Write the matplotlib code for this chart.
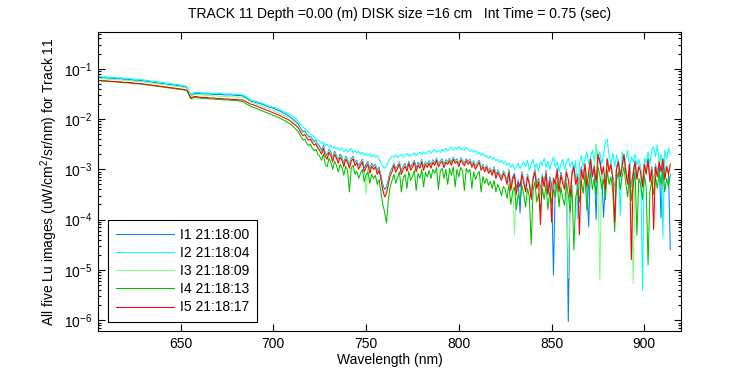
import numpy as np
import matplotlib
matplotlib.use('Agg')
import matplotlib.pyplot as plt
from matplotlib.ticker import LogLocator, FuncFormatter, NullFormatter

plt.rcParams['font.family'] = ['Liberation Sans', 'DejaVu Sans']
plt.rcParams['mathtext.fontset'] = 'custom'
plt.rcParams['mathtext.rm'] = 'Liberation Sans'
plt.rcParams['mathtext.it'] = 'Liberation Sans'
plt.rcParams['mathtext.bf'] = 'Liberation Sans'

# wavelength grid (nm): 2 nm sampling in the smooth part, 1 nm in the noisy part
wavelength = np.concatenate([np.arange(605.5, 714.0, 2.0), np.arange(715.0, 915.0, 1.0)])

labels = ["I1 21:18:00", "I2 21:18:04", "I3 21:18:09", "I4 21:18:13", "I5 21:18:17"]
colors = ["#0080ff", "#00ffff", "#80ff80", "#00c000", "#ff0000"]

# log10 of Lu (uW/cm^2/sr/nm)
I1_log10 = [
    # 605.5 - 713.5 (2 nm)
    -1.17, -1.18, -1.18, -1.19, -1.19, -1.20, -1.20, -1.21, -1.21, -1.22,
    -1.23, -1.23, -1.24, -1.25, -1.26, -1.27, -1.28, -1.29, -1.30, -1.31,
    -1.32, -1.33, -1.34, -1.35, -1.38, -1.53, -1.49, -1.49, -1.50, -1.50,
    -1.50, -1.51, -1.51, -1.51, -1.52, -1.52, -1.52, -1.53, -1.53, -1.54,
    -1.58, -1.64, -1.66, -1.68, -1.70, -1.73, -1.76, -1.78, -1.81, -1.84,
    -1.88, -1.92, -1.97, -2.03, -2.10,
    # 715 - 914 (1 nm)
    -2.20, -2.25, -2.24, -2.30, -2.35, -2.34, -2.40, -2.45, -2.43, -2.50,
    -2.55, -2.62, -2.52, -2.68, -2.72, -2.60, -2.66, -2.78, -2.64, -2.72,
    -2.82, -2.70, -2.76, -2.88, -2.74, -2.80, -2.92, -2.78, -2.74, -2.86,
    -2.82, -2.94, -2.86, -2.80, -2.98, -2.90, -2.85, -3.00, -2.88, -2.94,
    -2.90, -3.02, -2.96, -3.12, -3.30, -3.40, -3.35, -3.20, -3.05, -2.98,
    -2.88, -3.00, -2.92, -2.85, -3.04, -2.94, -2.88, -2.98, -2.84, -2.96,
    -2.90, -2.82, -2.98, -2.86, -2.92, -2.80, -2.96, -2.85, -2.90, -2.83,
    -2.92, -2.81, -2.87, -2.78, -2.90, -2.83, -2.79, -2.91, -2.81, -2.85,
    -2.78, -2.87, -2.76, -2.83, -2.79, -2.90, -2.77, -2.82, -2.88, -2.79,
    -2.85, -2.80, -2.91, -2.83, -2.95, -2.87, -2.82, -2.97, -2.90, -3.00,
    -2.92, -3.03, -2.97, -3.07, -2.95, -3.12, -3.01, -3.09, -3.16, -3.03,
    -3.10, -3.25, -3.00, -3.35, -3.15, -3.08, -3.40, -3.20, -3.87, -3.05,
    -3.22, -3.38, -3.10, -3.25, -3.50, -3.15, -3.00, -3.30, -3.18, -3.42,
    -3.10, -3.28, -3.02, -3.45, -3.15, -3.30, -5.10, -3.22, -2.98, -3.38,
    -3.06, -3.22, -3.35, -3.00, -6.03, -3.48, -3.05, -2.92, -3.25, -3.10,
    -3.30, -2.95, -3.15, -2.88, -3.30, -4.14, -2.78, -3.10, -2.92, -4.00,
    -2.72, -2.82, -3.05, -3.95, -3.30, -2.78, -3.00, -2.88, -3.15, -3.40,
    -2.95, -2.82, -3.10, -2.92, -2.75, -3.00, -3.25, -2.88, -3.35, -3.05,
    -2.82, -3.15, -2.92, -3.00, -3.30, -2.88, -3.05, -2.78, -3.20, -2.95,
    -3.25, -2.90, -3.10, -2.82, -3.97, -2.78, -3.15, -2.92, -3.05, -4.60,
]
I2_log10 = [
    -1.15, -1.16, -1.16, -1.17, -1.17, -1.18, -1.18, -1.19, -1.19, -1.20,
    -1.21, -1.21, -1.22, -1.23, -1.24, -1.25, -1.26, -1.27, -1.28, -1.29,
    -1.30, -1.31, -1.32, -1.33, -1.36, -1.51, -1.47, -1.47, -1.48, -1.48,
    -1.48, -1.49, -1.49, -1.49, -1.50, -1.50, -1.50, -1.51, -1.51, -1.52,
    -1.55, -1.62, -1.64, -1.66, -1.68, -1.71, -1.74, -1.76, -1.78, -1.81,
    -1.85, -1.88, -1.92, -1.97, -2.05,
    -2.12, -2.16, -2.19, -2.22, -2.26, -2.30, -2.32, -2.36, -2.40, -2.42,
    -2.44, -2.49, -2.46, -2.53, -2.50, -2.56, -2.52, -2.58, -2.55, -2.60,
    -2.57, -2.62, -2.58, -2.65, -2.60, -2.66, -2.62, -2.59, -2.67, -2.63,
    -2.68, -2.64, -2.70, -2.66, -2.72, -2.68, -2.74, -2.69, -2.75, -2.71,
    -2.76, -2.73, -2.80, -2.86, -2.94, -2.98, -2.92, -2.85, -2.78, -2.74,
    -2.76, -2.71, -2.77, -2.73, -2.70, -2.76, -2.72, -2.68, -2.74, -2.70,
    -2.72, -2.67, -2.73, -2.69, -2.66, -2.71, -2.65, -2.70, -2.66, -2.63,
    -2.68, -2.64, -2.61, -2.66, -2.62, -2.67, -2.60, -2.64, -2.58, -2.63,
    -2.59, -2.55, -2.62, -2.57, -2.60, -2.54, -2.61, -2.58, -2.62, -2.57,
    -2.60, -2.64, -2.61, -2.66, -2.63, -2.70, -2.66, -2.72, -2.68, -2.75,
    -2.72, -2.78, -2.74, -2.80, -2.77, -2.83, -2.80, -2.86, -2.82, -2.88,
    -2.85, -2.92, -2.88, -2.96, -2.90, -3.00, -2.94, -2.88, -2.98, -2.92,
    -2.86, -2.95, -2.82, -3.02, -2.90, -2.80, -2.97, -2.88, -3.05, -2.85,
    -2.92, -2.78, -2.96, -2.84, -3.00, -2.88, -2.76, -2.95, -2.85, -3.05,
    -2.90, -2.80, -3.00, -2.86, -2.78, -2.95, -2.85, -3.05, -2.82, -3.98,
    -2.88, -2.72, -2.95, -2.80, -2.65, -2.90, -2.75, -2.62, -2.85, -2.50,
    -2.78, -2.65, -2.90, -2.70, -2.45, -2.40, -2.75, -2.88, -2.68, -2.95,
    -2.72, -2.85, -3.92, -2.65, -2.90, -2.78, -2.62, -2.95, -2.75, -2.85,
    -2.70, -2.92, -2.80, -2.95, -5.40, -2.78, -2.88, -2.65, -2.90, -2.60,
    -2.55, -2.75, -2.52, -2.85, -2.70, -4.35, -2.62, -2.80, -2.58, -2.72,
]
I3_log10 = [
    -1.19, -1.20, -1.20, -1.21, -1.21, -1.22, -1.22, -1.23, -1.23, -1.24,
    -1.25, -1.25, -1.26, -1.27, -1.28, -1.29, -1.30, -1.31, -1.32, -1.33,
    -1.34, -1.35, -1.36, -1.37, -1.39, -1.55, -1.51, -1.52, -1.52, -1.53,
    -1.53, -1.54, -1.54, -1.55, -1.55, -1.55, -1.56, -1.56, -1.57, -1.57,
    -1.61, -1.66, -1.68, -1.71, -1.74, -1.77, -1.80, -1.83, -1.86, -1.89,
    -1.93, -1.96, -2.01, -2.07, -2.14,
    -2.23, -2.28, -2.27, -2.33, -2.37, -2.36, -2.43, -2.47, -2.45, -2.54,
    -2.60, -2.66, -2.55, -2.72, -2.76, -2.62, -2.69, -2.80, -2.67, -2.75,
    -2.84, -2.73, -2.79, -2.91, -2.77, -2.83, -2.95, -2.81, -2.76, -2.90,
    -2.84, -2.97, -2.89, -2.82, -3.02, -3.51, -2.88, -3.04, -2.91, -2.97,
    -2.92, -3.06, -2.99, -3.16, -3.38, -3.48, -3.42, -3.25, -3.08, -3.01,
    -2.90, -3.03, -2.95, -2.87, -3.07, -2.97, -2.91, -3.01, -2.86, -2.99,
    -2.93, -2.84, -3.02, -2.89, -2.95, -2.82, -2.99, -2.87, -2.93, -2.85,
    -2.95, -2.83, -2.89, -2.80, -2.92, -2.85, -2.81, -2.94, -2.83, -2.87,
    -2.80, -2.89, -2.78, -2.85, -2.81, -2.92, -2.79, -2.84, -2.90, -2.81,
    -2.87, -2.82, -2.93, -2.85, -2.97, -2.89, -2.84, -2.99, -2.92, -3.02,
    -2.94, -3.05, -2.99, -3.09, -2.97, -3.14, -3.03, -3.11, -3.19, -3.05,
    -3.12, -3.27, -3.02, -3.38, -3.18, -4.31, -3.45, -3.22, -3.32, -3.08,
    -3.25, -3.42, -3.12, -3.28, -3.55, -3.18, -3.02, -3.35, -3.22, -3.50,
    -3.12, -3.32, -3.05, -3.48, -3.20, -3.60, -3.15, -3.28, -3.00, -3.42,
    -3.10, -3.25, -3.38, -3.02, -5.16, -3.50, -3.08, -2.94, -3.28, -3.12,
    -3.40, -2.98, -3.18, -2.88, -3.32, -3.02, -2.82, -3.12, -2.92, -2.50,
    -3.20, -5.20, -3.08, -2.92, -3.35, -2.78, -3.02, -2.88, -3.18, -3.45,
    -2.98, -2.84, -3.12, -2.92, -2.72, -3.02, -3.28, -2.88, -3.40, -5.27,
    -2.82, -3.18, -2.92, -3.02, -3.32, -2.88, -3.08, -2.78, -3.22, -2.98,
    -3.30, -2.92, -3.12, -2.82, -3.02, -2.78, -3.18, -2.92, -3.08, -2.88,
]
I4_log10 = [
    -1.23, -1.24, -1.25, -1.25, -1.26, -1.26, -1.27, -1.28, -1.28, -1.29,
    -1.30, -1.30, -1.31, -1.32, -1.33, -1.34, -1.35, -1.36, -1.37, -1.38,
    -1.39, -1.40, -1.41, -1.42, -1.44, -1.60, -1.57, -1.58, -1.59, -1.59,
    -1.60, -1.60, -1.61, -1.61, -1.62, -1.62, -1.63, -1.63, -1.64, -1.65,
    -1.70, -1.74, -1.77, -1.80, -1.83, -1.86, -1.89, -1.92, -1.95, -1.98,
    -2.02, -2.06, -2.11, -2.18, -2.25,
    -2.36, -2.42, -2.40, -2.48, -2.53, -2.50, -2.58, -2.63, -2.60, -2.70,
    -2.74, -2.82, -2.70, -2.90, -2.95, -2.78, -2.86, -3.00, -2.84, -2.92,
    -3.05, -2.90, -2.96, -3.12, -2.94, -3.02, -3.45, -2.98, -2.92, -3.10,
    -3.04, -3.18, -3.08, -3.00, -3.25, -3.12, -3.05, -3.28, -3.10, -3.18,
    -3.12, -3.30, -3.20, -3.45, -3.70, -3.85, -4.07, -3.60, -3.35, -3.22,
    -3.10, -3.28, -3.15, -3.05, -3.45, -3.18, -3.10, -3.38, -3.04, -3.22,
    -3.14, -3.02, -3.42, -3.08, -3.18, -3.00, -3.35, -3.06, -3.15, -3.02,
    -3.18, -3.00, -3.08, -2.96, -3.40, -3.04, -2.98, -3.18, -3.00, -3.30,
    -2.98, -3.12, -2.95, -3.35, -3.00, -3.15, -2.96, -3.04, -3.42, -2.98,
    -3.06, -3.00, -3.38, -3.05, -3.20, -3.10, -3.04, -3.45, -3.14, -3.28,
    -3.18, -3.32, -3.24, -3.38, -3.22, -3.45, -3.30, -3.40, -3.52, -3.34,
    -3.40, -3.58, -3.30, -3.70, -3.45, -3.35, -3.80, -3.50, -3.62, -3.32,
    -3.50, -3.75, -3.38, -3.55, -4.50, -3.42, -3.25, -3.65, -3.48, -3.85,
    -3.38, -3.60, -3.30, -3.80, -3.45, -3.68, -3.40, -3.55, -3.25, -3.75,
    -3.35, -3.58, -3.72, -3.28, -3.50, -3.85, -3.32, -4.60, -3.55, -3.40,
    -3.65, -3.22, -3.48, -3.10, -3.81, -3.30, -3.05, -3.40, -3.18, -3.52,
    -2.95, -3.12, -3.38, -3.20, -3.60, -3.02, -3.30, -3.15, -3.45, -4.24,
    -3.22, -3.05, -3.40, -3.15, -2.95, -3.28, -3.55, -3.12, -3.62, -3.30,
    -3.05, -4.31, -3.18, -3.30, -3.60, -3.12, -3.35, -4.90, -3.45, -3.20,
    -3.50, -3.15, -3.38, -3.05, -3.30, -3.02, -3.45, -3.18, -3.35, -3.10,
]
I5_log10 = [
    -1.23, -1.24, -1.24, -1.25, -1.25, -1.26, -1.26, -1.27, -1.27, -1.28,
    -1.29, -1.29, -1.30, -1.31, -1.32, -1.33, -1.34, -1.35, -1.36, -1.37,
    -1.38, -1.39, -1.40, -1.41, -1.43, -1.58, -1.55, -1.56, -1.57, -1.57,
    -1.58, -1.58, -1.59, -1.59, -1.60, -1.60, -1.61, -1.61, -1.62, -1.62,
    -1.66, -1.70, -1.72, -1.75, -1.78, -1.81, -1.84, -1.87, -1.90, -1.93,
    -1.97, -2.00, -2.05, -2.11, -2.18,
    -2.28, -2.33, -2.31, -2.38, -2.42, -2.40, -2.47, -2.52, -2.49, -2.58,
    -2.63, -2.70, -2.58, -2.74, -2.80, -2.66, -2.72, -2.85, -2.70, -2.78,
    -2.88, -2.76, -2.82, -2.95, -2.80, -2.86, -2.98, -2.84, -2.79, -2.93,
    -2.87, -3.00, -2.92, -2.85, -3.05, -2.96, -2.90, -3.08, -2.94, -3.00,
    -2.95, -3.10, -3.02, -3.20, -3.42, -3.55, -3.48, -3.30, -3.12, -3.05,
    -2.92, -3.06, -2.98, -2.90, -3.10, -3.00, -2.94, -3.04, -2.88, -3.02,
    -2.96, -2.86, -3.05, -2.92, -2.98, -2.85, -3.02, -2.90, -2.96, -2.88,
    -2.98, -2.86, -2.92, -2.82, -2.95, -2.88, -2.84, -2.97, -2.86, -2.90,
    -2.83, -2.92, -2.80, -2.88, -2.84, -2.95, -2.82, -2.87, -2.93, -2.83,
    -2.90, -2.84, -2.96, -2.88, -3.00, -2.92, -2.86, -3.02, -2.95, -3.05,
    -2.96, -3.08, -3.02, -3.12, -3.00, -3.18, -3.06, -3.14, -3.22, -3.08,
    -3.15, -3.30, -3.05, -3.42, -3.20, -3.12, -3.50, -3.25, -3.35, -3.10,
    -3.28, -3.45, -3.15, -3.30, -3.60, -3.20, -3.05, -3.38, -3.25, -4.10,
    -3.15, -3.35, -3.08, -3.50, -3.22, -4.05, -3.18, -3.30, -3.02, -3.45,
    -3.12, -3.28, -3.40, -3.05, -3.20, -3.55, -3.10, -2.95, -3.30, -3.15,
    -4.30, -3.00, -3.20, -2.90, -3.35, -3.05, -2.80, -3.15, -2.95, -3.25,
    -2.70, -2.85, -3.10, -2.95, -3.40, -2.80, -3.05, -2.90, -3.20, -4.05,
    -3.00, -2.85, -3.15, -2.95, -2.70, -3.05, -3.30, -2.90, -4.80, -3.10,
    -2.85, -3.20, -2.95, -3.05, -3.35, -2.90, -3.10, -2.80, -3.25, -3.00,
    -4.20, -2.95, -3.15, -2.85, -3.05, -2.80, -3.20, -2.95, -3.10, -2.90,
]
series = [I1_log10, I2_log10, I3_log10, I4_log10, I5_log10]

title = "TRACK 11 Depth =0.00 (m) DISK size =16 cm   Int Time = 0.75 (sec)"
xlabel = "Wavelength (nm)"
ylabel = "All five Lu images (uW/cm$^2$/sr/nm) for Track 11"
xticks = [650, 700, 750, 800, 850, 900]
yticks = [1e-6, 1e-5, 1e-4, 1e-3, 1e-2, 1e-1]

fig = plt.figure(figsize=(7.5, 3.75), dpi=100)
ax = fig.add_axes([0.1307, 0.1173, 0.7779, 0.7973])

for vals, lab, col in zip(series, labels, colors):
    ax.plot(wavelength, 10.0 ** np.asarray(vals), color=col, lw=0.75, label=lab)

ax.set_yscale('log')
ax.set_xlim(605.5, 920)
ax.set_ylim(10 ** -6.215, 10 ** -0.27)
ax.set_xticks(xticks)
ax.set_xticklabels([str(t) for t in xticks])
ax.set_yticks(yticks)
ax.yaxis.set_major_formatter(FuncFormatter(
    lambda v, p: r'$\mathregular{10^{%d}}$' % int(round(np.log10(v)))))
ax.yaxis.set_minor_locator(LogLocator(base=10, subs=np.arange(2, 10)))
ax.yaxis.set_minor_formatter(NullFormatter())
ax.tick_params(which='both', direction='in', top=True, right=True, labelsize=10, width=0.8)
ax.tick_params(which='major', length=5, pad=4)
ax.tick_params(which='minor', length=2.5)
for s in ax.spines.values():
    s.set_linewidth(0.8)

ax.set_title(title, fontsize=10, pad=10, x=0.516)
ax.set_xlabel(xlabel, fontsize=10, labelpad=2)
ax.set_ylabel(ylabel, fontsize=10, labelpad=3)

leg = ax.legend(loc='lower left', bbox_to_anchor=(0.017, 0.03), borderaxespad=0,
                fontsize=10, fancybox=False, edgecolor='black', framealpha=1,
                handlelength=4.2, handletextpad=0.45, labelspacing=0.3,
                borderpad=0.55)
leg.get_frame().set_linewidth(0.8)

fig.savefig('out.png', dpi=100)
